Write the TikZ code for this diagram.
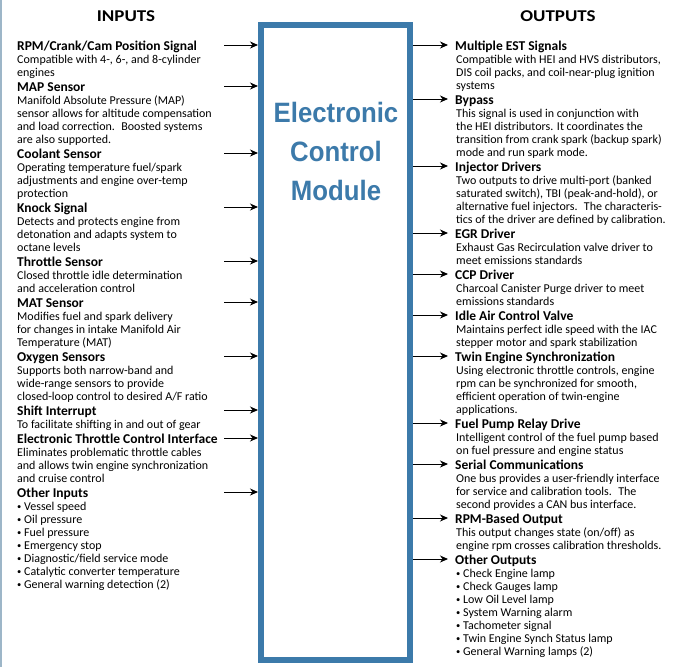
\documentclass[tikz,border=0pt]{standalone}
\usepackage{fontspec}
\setmainfont{Carlito}
\newfontfamily\headfont{Carlito}[FakeStretch=1.15]
\newfontfamily\ecmfont{Liberation Sans}[FakeStretch=0.92]
\usetikzlibrary{arrows.meta}
\definecolor{ecmblue}{HTML}{3C7AAA}
\definecolor{edgegray}{HTML}{9DB6C8}
\newcommand\firstln{\rule{0pt}{10pt}}
\newcommand\bul{{\fontsize{8.5}{8.5}\selectfont\raisebox{1.3pt}{•}}\ }
\begin{document}
\begin{tikzpicture}[x=1pt,y=-1pt,
  ttl/.style={anchor=base west, inner sep=0pt, font=\fontsize{13.5}{15}\selectfont\bfseries},
  bdy/.style={anchor=north west, inner sep=0pt, align=left, font=\fontsize{12}{13}\selectfont},
  hdr/.style={inner sep=0pt, font=\headfont\bfseries\fontsize{16.5}{18}\selectfont},
  arr/.style={line width=1pt, -{Stealth[length=8pt,width=7pt,inset=2.5pt]}},
]
\useasboundingbox (0,0) rectangle (676,667);
\fill[white] (0,0) rectangle (676,667);
\draw[edgegray, line width=1.5pt] (0.75,0) -- (0.75,667);

% central module
\node[draw=ecmblue, line width=6pt, minimum width=149pt, minimum height=635pt, inner sep=0pt] (ecm) at (335.5,342.5) {};
\node[font=\ecmfont\bfseries\fontsize{28}{39}\selectfont, text=ecmblue, align=center, inner sep=0pt] (ecmtitle) at (336,151) {Electronic\\Control\\Module};

% headings
\node[hdr] (inputs) at (126,16) {INPUTS};
\node[hdr] (outputs) at (558,16) {OUTPUTS};

% ---------------- INPUTS ----------------
\node[ttl] (lt1) at (17,50) {RPM/Crank/Cam Position Signal};
\node[bdy] (lb1) at (17,53.5) {\firstln Compatible with 4-, 6-, and 8-cylinder\\engines};
\node[ttl] (lt2) at (17,91) {MAP Sensor};
\node[bdy] (lb2) at (17,94.5) {\firstln Manifold Absolute Pressure (MAP)\\sensor allows for altitude compensation\\and load correction.~ Boosted systems\\are also supported.};
\node[ttl] (lt3) at (17,158) {Coolant Sensor};
\node[bdy] (lb3) at (17,161.5) {\firstln Operating temperature fuel/spark\\adjustments and engine over-temp\\protection};
\node[ttl] (lt4) at (17,212) {Knock Signal};
\node[bdy] (lb4) at (17,215.5) {\firstln Detects and protects engine from\\detonation and adapts system to\\octane levels};
\node[ttl] (lt5) at (17,266) {Throttle Sensor};
\node[bdy] (lb5) at (17,269.5) {\firstln Closed throttle idle determination\\and acceleration control};
\node[ttl] (lt6) at (17,307) {MAT Sensor};
\node[bdy] (lb6) at (17,310.5) {\firstln Modifies fuel and spark delivery\\for changes in intake Manifold Air\\Temperature (MAT)};
\node[ttl] (lt7) at (17,361) {Oxygen Sensors};
\node[bdy] (lb7) at (17,364.5) {\firstln Supports both narrow-band and\\wide-range sensors to provide\\closed-loop control to desired A/F ratio};
\node[ttl] (lt8) at (17,415) {Shift Interrupt};
\node[bdy] (lb8) at (17,418.5) {\firstln To facilitate shifting in and out of gear};
\node[ttl] (lt9) at (17,443) {Electronic Throttle Control Interface};
\node[bdy] (lb9) at (17,446.5) {\firstln Eliminates problematic throttle cables\\and allows twin engine synchronization\\and cruise control};
\node[ttl] (lt10) at (17,497) {Other Inputs};
\node[bdy] (lb10) at (17,500.5) {\firstln \bul Vessel speed\\\bul Oil pressure\\\bul Fuel pressure\\\bul Emergency stop\\\bul Diagnostic/field service mode\\\bul Catalytic converter temperature\\\bul General warning detection (2)};

\foreach \i/\y in {1/45,2/86,3/153,4/207,5/261,6/302,7/356,8/410,9/438,10/492}{
  \coordinate (ia\i) at (224,\y);
  \draw[arr] (ia\i) -- (ia\i -| ecm.west);
}

% ---------------- OUTPUTS ----------------
\node[ttl] (rt1) at (455,50) {Multiple EST Signals};
\node[bdy] (rb1) at (456,53.5) {\firstln Compatible with HEI and HVS distributors,\\DIS coil packs, and coil-near-plug ignition\\systems};
\node[ttl] (rt2) at (455,104) {Bypass};
\node[bdy] (rb2) at (456,107.5) {\firstln This signal is used in conjunction with\\the HEI distributors. It coordinates the\\transition from crank spark (backup spark)\\mode and run spark mode.};
\node[ttl] (rt3) at (455,171) {Injector Drivers};
\node[bdy] (rb3) at (456,174.5) {\firstln Two outputs to drive multi-port (banked\\saturated switch), TBI (peak-and-hold), or\\alternative fuel injectors.~ The characteris-\\tics of the driver are defined by calibration.};
\node[ttl] (rt4) at (455,238) {EGR Driver};
\node[bdy] (rb4) at (456,241.5) {\firstln Exhaust Gas Recirculation valve driver to\\meet emissions standards};
\node[ttl] (rt5) at (455,279) {CCP Driver};
\node[bdy] (rb5) at (456,282.5) {\firstln Charcoal Canister Purge driver to meet\\emissions standards};
\node[ttl] (rt6) at (455,320) {Idle Air Control Valve};
\node[bdy] (rb6) at (456,323.5) {\firstln Maintains perfect idle speed with the IAC\\stepper motor and spark stabilization};
\node[ttl] (rt7) at (455,361) {Twin Engine Synchronization};
\node[bdy] (rb7) at (456,364.5) {\firstln Using electronic throttle controls, engine\\rpm can be synchronized for smooth,\\efficient operation of twin-engine\\applications.};
\node[ttl] (rt8) at (455,428) {Fuel Pump Relay Drive};
\node[bdy] (rb8) at (456,431.5) {\firstln Intelligent control of the fuel pump based\\on fuel pressure and engine status};
\node[ttl] (rt9) at (455,469) {Serial Communications};
\node[bdy] (rb9) at (456,472.5) {\firstln One bus provides a user-friendly interface\\for service and calibration tools.~ The\\second provides a CAN bus interface.};
\node[ttl] (rt10) at (455,523) {RPM-Based Output};
\node[bdy] (rb10) at (456,526.5) {\firstln This output changes state (on/off) as\\engine rpm crosses calibration thresholds.};
\node[ttl] (rt11) at (455,564) {Other Outputs};
\node[bdy] (rb11) at (456,567.5) {\firstln \bul Check Engine lamp\\\bul Check Gauges lamp\\\bul Low Oil Level lamp\\\bul System Warning alarm\\\bul Tachometer signal\\\bul Twin Engine Synch Status lamp\\\bul General Warning lamps (2)};

\foreach \i/\y in {1/45,2/99,3/166,4/233,5/274,6/315,7/356,8/423,9/464,10/518,11/559}{
  \coordinate (oa\i) at (448,\y);
  \draw[arr] (oa\i -| ecm.east) -- (oa\i);
}
\end{tikzpicture}
\end{document}
